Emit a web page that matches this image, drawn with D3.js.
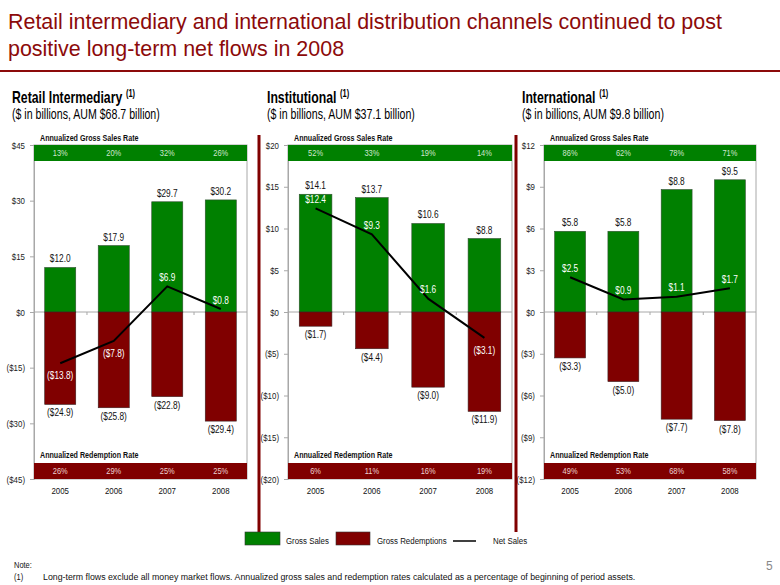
<!DOCTYPE html>
<html><head><meta charset="utf-8">
<script src="https://cdn.jsdelivr.net/npm/d3@7"></script>
<style>
body{margin:0;background:#fff;}
svg{display:block;}
</style></head>
<body>
<svg id="c" width="780" height="585"></svg>
<script>
const years = ["2005","2006","2007","2008"];

const retailGross = [12.0, 17.9, 29.7, 30.2];
const retailRedemptions = [-24.9, -25.8, -22.8, -29.4];
const retailNet = [-13.8, -7.8, 6.9, 0.8];
const retailSalesRate = ["13%","20%","32%","26%"];
const retailRedemptionRate = ["26%","29%","25%","25%"];
const retailTicks = [45, 30, 15, 0, -15, -30, -45];

const instGross = [14.1, 13.7, 10.6, 8.8];
const instRedemptions = [-1.7, -4.4, -9.0, -11.9];
const instNet = [12.4, 9.3, 1.6, -3.1];
const instSalesRate = ["52%","33%","19%","14%"];
const instRedemptionRate = ["6%","11%","16%","19%"];
const instTicks = [20, 15, 10, 5, 0, -5, -10, -15, -20];

const intlGross = [5.8, 5.8, 8.8, 9.5];
const intlRedemptions = [-3.3, -5.0, -7.7, -7.8];
const intlNet = [2.5, 0.9, 1.1, 1.7];
const intlSalesRate = ["86%","62%","78%","71%"];
const intlRedemptionRate = ["49%","53%","68%","58%"];
const intlTicks = [12, 9, 6, 3, 0, -3, -6, -9, -12];

const panelTitles = ["Retail Intermediary", "Institutional", "International"];
const panelSubtitles = ["($ in billions, AUM $68.7 billion)", "($ in billions, AUM $37.1 billion)", "($ in billions, AUM $9.8 billion)"];
const legendLabels = ["Gross Sales", "Gross Redemptions", "Net Sales"];

const GREEN = "#008000", RED = "#800000", TITLE = "#8c0a0a";
const SANS = "'Liberation Sans',Arial,sans-serif";
const F = 0.83; // narrow look

const svg = d3.select("#c");

function squash(node, f) {
  const x = +(node.getAttribute("x") || 0);
  node.setAttribute("transform", `translate(${x},0) scale(${f},1) translate(${-x},0)`);
}
function fitFactor(node, w) { return w / node.getBBox().width; }

// Title
const tl1 = svg.append("text").attr("x", 8).attr("y", 29).attr("font-family", SANS).attr("font-size", 21.5).attr("fill", TITLE)
  .text("Retail intermediary and international distribution channels continued to post");
const tl2 = svg.append("text").attr("x", 8).attr("y", 56).attr("font-family", SANS).attr("font-size", 21.5).attr("fill", TITLE)
  .text("positive long-term net flows in 2008");
const tf = fitFactor(tl1.node(), 714);
squash(tl1.node(), tf); squash(tl2.node(), tf);
svg.append("line").attr("x1", 0).attr("x2", 780).attr("y1", 71).attr("y2", 71).attr("stroke", TITLE).attr("stroke-width", 2);

const panels = [
  {x0: 34, x1: 247, tx: 12, gross: retailGross, red: retailRedemptions, net: retailNet, sr: retailSalesRate, rr: retailRedemptionRate, ticks: retailTicks},
  {x0: 288, x1: 512, tx: 267, gross: instGross, red: instRedemptions, net: instNet, sr: instSalesRate, rr: instRedemptionRate, ticks: instTicks},
  {x0: 544, x1: 756, tx: 522, gross: intlGross, red: intlRedemptions, net: intlNet, sr: intlSalesRate, rr: intlRedemptionRate, ticks: intlTicks}
];

const yTop = 145, yBot = 479, bandH = 16;
const fmt = v => v < 0 ? `($${Math.abs(v).toFixed(1)})` : `$${v.toFixed(1)}`;
const fmtTick = v => v < 0 ? `($${Math.abs(v)})` : `$${v}`;

let titleF = null, subF = null, annF = null;

panels.forEach((p, i) => {
  const g = svg.append("g");
  const max = d3.max(p.ticks);
  const y = d3.scaleLinear().domain([-max, max]).range([yBot, yTop]);
  const x = d3.scaleBand().domain(years).range([p.x0, p.x1]).paddingInner(0.42).paddingOuter(0.2);
  const cx = k => x(years[k]) + x.bandwidth() / 2;

  // Panel titles
  const t = g.append("text").attr("x", p.tx).attr("y", 103).attr("font-family", SANS).attr("font-weight", "bold").attr("font-size", 16.5).attr("fill", "#000");
  t.append("tspan").text(panelTitles[i]);
  if (titleF === null) titleF = fitFactor(t.node(), 111);
  t.append("tspan").attr("font-size", 10).attr("font-weight", "bold").attr("dx", 5).attr("dy", -6).text("(1)");
  squash(t.node(), titleF);
  const st = g.append("text").attr("x", p.tx).attr("y", 119).attr("font-family", SANS).attr("font-size", 14.5).attr("fill", "#000").text(panelSubtitles[i]);
  if (subF === null) subF = fitFactor(st.node(), 148);
  squash(st.node(), subF);

  // frame
  g.append("rect").attr("x", p.x0).attr("y", yTop).attr("width", p.x1 - p.x0).attr("height", yBot - yTop)
    .attr("fill", "none").attr("stroke", "#a8a8a8").attr("stroke-width", 1);

  // y axis
  const ax = g.append("g").attr("transform", `translate(${p.x0},0)`)
    .call(d3.axisLeft(y).tickValues(p.ticks).tickFormat(fmtTick).tickSize(4).tickPadding(5));
  ax.select(".domain").attr("stroke", "#a8a8a8");
  ax.selectAll(".tick line").attr("stroke", "#a8a8a8");
  ax.selectAll("text").attr("font-family", SANS).attr("font-size", 9.5).attr("fill", "#222").each(function(){ squash(this, F); });

  // zero line
  g.append("line").attr("x1", p.x0).attr("x2", p.x1).attr("y1", y(0)).attr("y2", y(0)).attr("stroke", "#a8a8a8");
  const bounds = years.slice(1).map(d => x(d) - x.step() * x.paddingInner() / 2);
  g.selectAll(".xt").data(bounds).join("line").attr("x1", d => d).attr("x2", d => d)
    .attr("y1", y(0)).attr("y2", y(0) + 3).attr("stroke", "#a8a8a8");

  // bands
  g.append("rect").attr("x", p.x0).attr("y", yTop).attr("width", p.x1 - p.x0).attr("height", bandH).attr("fill", GREEN);
  g.append("rect").attr("x", p.x0).attr("y", yBot - bandH).attr("width", p.x1 - p.x0).attr("height", bandH).attr("fill", RED);
  const a1 = g.append("text").attr("x", p.x0 + 6).attr("y", yTop - 4).attr("font-family", SANS).attr("font-weight", "bold").attr("font-size", 8.5).attr("fill", "#111").text("Annualized Gross Sales Rate");
  if (annF === null) annF = fitFactor(a1.node(), 99);
  squash(a1.node(), annF);
  const a2 = g.append("text").attr("x", p.x0 + 6).attr("y", yBot - bandH - 5).attr("font-family", SANS).attr("font-weight", "bold").attr("font-size", 8.5).attr("fill", "#111").text("Annualized Redemption Rate");
  squash(a2.node(), annF);
  g.selectAll(".sr").data(p.sr).join("text").attr("x", (d, k) => cx(k)).attr("y", yTop + bandH / 2 + 3)
    .attr("text-anchor", "middle").attr("font-family", SANS).attr("font-size", 9).attr("fill", "#cfe6cf").text(d => d)
    .each(function(){ squash(this, F); });
  g.selectAll(".rr").data(p.rr).join("text").attr("x", (d, k) => cx(k)).attr("y", yBot - bandH / 2 + 3)
    .attr("text-anchor", "middle").attr("font-family", SANS).attr("font-size", 9).attr("fill", "#ecd0d0").text(d => d)
    .each(function(){ squash(this, F); });

  // bars
  g.selectAll(".gb").data(p.gross).join("rect").attr("x", (d, k) => x(years[k])).attr("width", x.bandwidth())
    .attr("y", d => y(d)).attr("height", d => y(0) - y(d)).attr("fill", GREEN).attr("stroke", "#2f4f2f").attr("stroke-width", 0.6);
  g.selectAll(".rb").data(p.red).join("rect").attr("x", (d, k) => x(years[k])).attr("width", x.bandwidth())
    .attr("y", y(0)).attr("height", d => y(d) - y(0)).attr("fill", RED).attr("stroke", "#3a2020").attr("stroke-width", 0.6);

  // bar labels
  g.selectAll(".gl").data(p.gross).join("text").attr("x", (d, k) => cx(k)).attr("y", d => y(d) - 5)
    .attr("text-anchor", "middle").attr("font-family", SANS).attr("font-size", 10).attr("fill", "#111").text(fmt)
    .each(function(){ squash(this, F); });
  g.selectAll(".rl").data(p.red).join("text").attr("x", (d, k) => cx(k)).attr("y", d => y(d) + 12)
    .attr("text-anchor", "middle").attr("font-family", SANS).attr("font-size", 10).attr("fill", "#111").text(fmt)
    .each(function(){ squash(this, F); });

  // net line
  const line = d3.line().x((d, k) => cx(k)).y(d => y(d));
  g.append("path").datum(p.net).attr("d", line).attr("fill", "none").attr("stroke", "#000").attr("stroke-width", 2);
  g.selectAll(".nl").data(p.net).join("text").attr("x", (d, k) => cx(k))
    .attr("y", d => d >= 0 ? y(d) - 5.5 : y(d) + 16)
    .attr("text-anchor", "middle").attr("font-family", SANS).attr("font-size", 10).attr("fill", "#fff").text(fmt)
    .each(function(){ squash(this, F); });

  // year labels
  g.selectAll(".yl").data(years).join("text").attr("x", d => x(d) + x.bandwidth() / 2).attr("y", yBot + 15)
    .attr("text-anchor", "middle").attr("font-family", SANS).attr("font-size", 9.5).attr("fill", "#111").text(d => d)
    .each(function(){ squash(this, F); });
});

// separators
[259, 516].forEach(sx => {
  svg.append("line").attr("x1", sx).attr("x2", sx).attr("y1", 135).attr("y2", 532).attr("stroke", RED).attr("stroke-width", 3);
});

// legend
const leg = svg.append("g").attr("font-family", SANS).attr("font-size", 9.5).attr("fill", "#111");
leg.append("rect").attr("x", 245).attr("y", 532).attr("width", 35).attr("height", 13).attr("fill", GREEN).attr("stroke", "#333").attr("stroke-width", 0.6);
leg.append("text").attr("x", 286).attr("y", 544).text(legendLabels[0]).each(function(){ squash(this, F); });
leg.append("rect").attr("x", 336).attr("y", 532).attr("width", 34).attr("height", 13).attr("fill", RED).attr("stroke", "#333").attr("stroke-width", 0.6);
leg.append("text").attr("x", 377).attr("y", 544).text(legendLabels[1]).each(function(){ squash(this, F); });
leg.append("line").attr("x1", 453).attr("x2", 476).attr("y1", 541).attr("y2", 541).attr("stroke", "#000").attr("stroke-width", 1.5);
leg.append("text").attr("x", 493).attr("y", 544).text(legendLabels[2]).each(function(){ squash(this, F); });

// footnote
const fn = svg.append("g").attr("font-family", SANS).attr("font-size", 9).attr("fill", "#111");
fn.append("text").attr("x", 14).attr("y", 568).text("Note:").each(function(){ squash(this, F); });
fn.append("text").attr("x", 14).attr("y", 580).text("(1)").each(function(){ squash(this, F); });
const ft = fn.append("text").attr("x", 43).attr("y", 580).text("Long-term flows exclude all money market flows.  Annualized gross sales and redemption rates calculated as a percentage of beginning of period assets.");
squash(ft.node(), fitFactor(ft.node(), 593));
svg.append("text").attr("x", 766).attr("y", 570).attr("font-family", SANS).attr("font-size", 12).attr("fill", "#888").text("5");
</script>
</body></html>
